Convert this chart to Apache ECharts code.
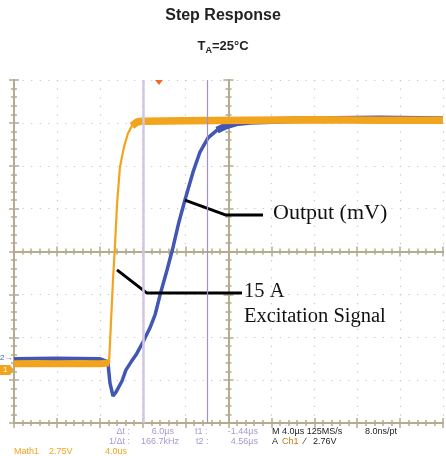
<!DOCTYPE html>
<html>
<head>
<meta charset="utf-8">
<script src="https://cdn.jsdelivr.net/npm/echarts@6/dist/echarts.min.js"></script>
<style>
html, body { margin: 0; padding: 0; background: #fff; }
#scope { width: 446px; height: 456px; }
</style>
</head>
<body>
<div id="scope"></div>
<script>
// time in us from left edge of screen (4 us/div, 10 div), level in divisions from bottom
var triggerT = 13.5;
var cursorT1 = -1.44;   // relative to trigger
var cursorT2 = 4.56;

// Ch1 - 15 A excitation (orange)
var excT = [0, 2, 4, 6, 8, 8.86, 9.04, 9.23, 9.42, 9.60, 9.88, 10.26, 10.63, 11.00, 11.47, 11.93, 16, 22, 28, 34, 40];
var excY = [1.38, 1.39, 1.38, 1.39, 1.38, 1.40, 2.33, 3.34, 4.15, 5.08, 5.97, 6.44, 6.76, 6.93, 7.02, 7.04, 7.05, 7.06, 7.07, 7.06, 7.06];

// Ch2 - output (blue)
var outT = [0, 4, 8, 8.76, 8.95, 9.23, 9.51, 10.07, 10.44, 10.91, 11.38, 12.03, 12.68, 13.15, 13.62, 14.27, 14.83, 15.38, 15.94, 16.69, 17.34, 18.09, 18.93, 19.77, 20.70, 22.0, 26, 30, 34, 40];
var outY = [1.47, 1.48, 1.47, 1.40, 0.93, 0.63, 0.72, 0.98, 1.24, 1.42, 1.59, 1.89, 2.22, 2.52, 2.99, 3.57, 4.10, 4.69, 5.20, 5.85, 6.32, 6.65, 6.83, 6.93, 7.00, 7.04, 7.07, 7.08, 7.09, 7.07];

// annotation leader lines
var outLeader = [[15.94, 5.20], [19.77, 4.85], [23.22, 4.85]];
var excLeader = [[9.60, 3.57], [12.40, 3.03], [21.26, 3.03]];

function pairs(t, y, from, to) {
    var d = [];
    for (var i = from; i < to; i++) d.push([t[i], y[i]]);
    return d;
}

var tan = '#b5ab8d';
var dots = { color: '#c9c5bb', width: 1.2, type: [1.2, 7.375] };

function xAx(pos, offset, grid) {
    return {
        type: 'value', min: 0, max: 40, interval: 4, position: pos, offset: offset,
        axisLine: { show: true, lineStyle: { color: tan, width: 2 } },
        axisTick: { show: true, inside: true, length: 5, lineStyle: { color: tan, width: 1.5 } },
        minorTick: { show: true, splitNumber: 5, length: 3, lineStyle: { color: tan, width: 1.5 } },
        axisLabel: { show: false },
        splitLine: { show: grid, lineStyle: dots }
    };
}
function yAx(pos, offset, grid) {
    return {
        type: 'value', min: 0, max: 8, interval: 1, position: pos, offset: offset,
        axisLine: { show: true, lineStyle: { color: tan, width: 2 } },
        axisTick: { show: true, inside: true, length: 5, lineStyle: { color: tan, width: 1.5 } },
        minorTick: { show: true, splitNumber: 5, length: 3, lineStyle: { color: tan, width: 1.5 } },
        axisLabel: { show: false },
        splitLine: { show: grid, lineStyle: dots }
    };
}

var orange = '#f3a41d';
var blue = '#4256b3';
var lav = '#a898cc';
var fontSm = '9px "Liberation Sans", Arial, sans-serif';
var serif = '"Liberation Serif", "Times New Roman", serif';

var chart = echarts.init(document.getElementById('scope'));
chart.setOption({
    animation: false,
    grid: { left: 14, top: 80, width: 429, height: 343, containLabel: false },
    xAxis: [xAx('bottom', 0, true), xAx('top', 0, false), xAx('bottom', -171.5, false), xAx('top', -171.5, false)],
    yAxis: [yAx('left', 0, true), yAx('right', 0, false), yAx('left', -214.5, false), yAx('right', -214.5, false)],
    series: [
        {
            type: 'line', data: [], z: 1,
            markLine: {
                silent: true, symbol: 'none', label: { show: false },
                data: [
                    { xAxis: triggerT + cursorT1, lineStyle: { color: '#d3c6e2', width: 2.5, type: 'solid' } },
                    { xAxis: triggerT + cursorT2, lineStyle: { color: '#a48fc8', width: 1.2, type: 'solid' } }
                ]
            }
        },
        { type: 'line', data: pairs(outT, outY, 0, outT.length), showSymbol: false, z: 2,
          lineStyle: { color: blue, width: 3.5 } },
        { type: 'line', data: pairs(outT, outY, 0, 4), showSymbol: false, z: 2,
          lineStyle: { color: blue, width: 6 } },
        { type: 'line', data: pairs(outT, outY, 22, outT.length), showSymbol: false, z: 2,
          lineStyle: { color: blue, width: 7 } },
        { type: 'line', data: pairs(excT, excY, 0, excT.length), showSymbol: false, z: 3,
          lineStyle: { color: orange, width: 2.2 } },
        { type: 'line', data: pairs(excT, excY, 0, 6), showSymbol: false, z: 3,
          lineStyle: { color: orange, width: 7 } },
        { type: 'line', data: pairs(excT, excY, 13, excT.length), showSymbol: false, z: 3,
          lineStyle: { color: orange, width: 7.5 } },
        { type: 'line', data: outLeader, showSymbol: false, z: 4,
          lineStyle: { color: '#000', width: 3 } },
        { type: 'line', data: excLeader, showSymbol: false, z: 4,
          lineStyle: { color: '#000', width: 3 } }
    ],
    graphic: [
        { type: 'text', left: 'center', top: 8,
          style: { text: 'Step Response', font: 'bold 16px "Liberation Sans", Arial, sans-serif', fill: '#222' } },
        { type: 'text', left: 'center', top: 40,
          style: { text: '{t|T}{s|A}{t|=25°C}', fill: '#222',
                   rich: { t: { font: 'bold 13px "Liberation Sans", Arial, sans-serif', fill: '#222' },
                           s: { font: 'bold 9px "Liberation Sans", Arial, sans-serif', fill: '#222', padding: [8, 0, 0, 0] } } } },
        // trigger marker
        { type: 'polygon', shape: { points: [[155, 80], [163, 80], [159, 85]] }, style: { fill: '#f26b2b' }, z: 10 },
        // channel markers
        { type: 'text', x: 0, y: 354, style: { text: '2\u2192', font: '8px "Liberation Sans", Arial, sans-serif', fill: blue } },
        { type: 'rect', shape: { x: 0, y: 365, width: 10, height: 10 }, style: { fill: orange } },
        { type: 'polygon', shape: { points: [[10, 365], [14, 370], [10, 375]] }, style: { fill: orange } },
        { type: 'text', x: 3, y: 366, style: { text: '1', font: '8px "Liberation Sans", Arial, sans-serif', fill: '#fff' } },
        // annotations
        { type: 'text', x: 273, y: 202, style: { text: 'Output (mV)', font: '22px ' + serif, fill: '#111' } },
        { type: 'text', x: 244, y: 281, style: { text: '15 A', font: '20.5px ' + serif, fill: '#111' } },
        { type: 'text', x: 244, y: 306, style: { text: 'Excitation Signal', font: '20.5px ' + serif, fill: '#111' } },
        // readouts
        { type: 'text', x: 130, y: 427, style: { text: '\u0394t :', font: fontSm, fill: lav, align: 'right' } },
        { type: 'text', x: 174, y: 427, style: { text: '6.0\u00b5s', font: fontSm, fill: lav, align: 'right' } },
        { type: 'text', x: 195, y: 427, style: { text: 't1 :', font: fontSm, fill: lav } },
        { type: 'text', x: 258, y: 427, style: { text: '-1.44\u00b5s', font: fontSm, fill: lav, align: 'right' } },
        { type: 'text', x: 272, y: 427, style: { text: 'M 4.0\u00b5s 125MS/s', font: fontSm, fill: '#222' } },
        { type: 'text', x: 365, y: 427, style: { text: '8.0ns/pt', font: fontSm, fill: '#222' } },
        { type: 'text', x: 130, y: 437, style: { text: '1/\u0394t :', font: fontSm, fill: lav, align: 'right' } },
        { type: 'text', x: 179, y: 437, style: { text: '166.7kHz', font: fontSm, fill: lav, align: 'right' } },
        { type: 'text', x: 196, y: 437, style: { text: 't2 :', font: fontSm, fill: lav } },
        { type: 'text', x: 258, y: 437, style: { text: '4.56\u00b5s', font: fontSm, fill: lav, align: 'right' } },
        { type: 'text', x: 272, y: 437, style: { text: 'A', font: fontSm, fill: '#222' } },
        { type: 'text', x: 282, y: 437, style: { text: 'Ch1', font: fontSm, fill: '#c87a10' } },
        { type: 'text', x: 304, y: 437, style: { text: '\u2215', font: fontSm, fill: '#222' } },
        { type: 'text', x: 313, y: 437, style: { text: '2.76V', font: fontSm, fill: '#222' } },
        { type: 'text', x: 14, y: 447, style: { text: 'Math1', font: fontSm, fill: orange } },
        { type: 'text', x: 49, y: 447, style: { text: '2.75V', font: fontSm, fill: orange } },
        { type: 'text', x: 105, y: 447, style: { text: '4.0us', font: fontSm, fill: orange } }
    ]
});
</script>
</body>
</html>
